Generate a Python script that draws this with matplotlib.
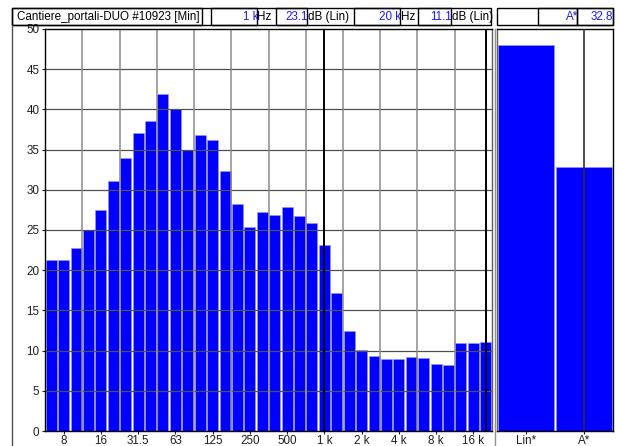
import matplotlib
matplotlib.use("Agg")
import matplotlib.pyplot as plt
from matplotlib.patches import Rectangle
from matplotlib.lines import Line2D

plt.rcParams['font.family'] = ['Liberation Sans', 'DejaVu Sans']

# ---- data ----
bands = ["6.3", "8", "10", "12.5", "16", "20", "25", "31.5", "40", "50", "63", "80",
         "100", "125", "160", "200", "250", "315", "400", "500", "630", "800",
         "1 k", "1.25 k", "1.6 k", "2 k", "2.5 k", "3.15 k", "4 k", "5 k", "6.3 k",
         "8 k", "10 k", "12.5 k", "16 k", "20 k"]
levels = [21.3, 21.3, 22.8, 25.0, 27.5, 31.1, 34.0, 37.1, 38.6, 41.9, 40.0, 34.9,
          36.8, 36.2, 32.3, 28.2, 25.4, 27.3, 26.9, 27.9, 26.8, 25.9,
          23.1, 17.2, 12.4, 10.1, 9.3, 9.0, 9.0, 9.2, 9.1,
          8.3, 8.2, 11.0, 10.9, 11.1]
tick_labels = ["8", "16", "31.5", "63", "125", "250", "500", "1 k", "2 k", "4 k", "8 k", "16 k"]
total_names = ["Lin*", "A*"]
total_values = [48.0, 32.8]
title = "Cantiere_portali-DUO #10923 [Min]"
cursor1_band, cursor1_value = "1 k", "23.1"
cursor2_band, cursor2_value = "20 k", "11.1"
total_cursor_name, total_cursor_value = "A*", "32.8"

W, H = 620, 446
fig = plt.figure(figsize=(W / 100, H / 100), dpi=100)

def rect(x0, y0, x1, y1):
    return [x0 / W, 1 - y1 / H, (x1 - x0) / W, (y1 - y0) / H]

FS = 8.4
BLUE = "#0000ff"
TXTBLUE = "#1a1aff"

# ---- main axes ----
ax = fig.add_axes(rect(45, 29, 492, 431))
x = list(range(len(bands)))
ax.bar(x, levels, width=0.88, color=BLUE, edgecolor="#9999ff", linewidth=0.4, zorder=2)
ax.set_xlim(-0.5, len(bands) - 0.5)
ax.set_ylim(0, 50)
ax.set_yticks(range(0, 51, 5))
ax.set_xticks([bands.index(t) for t in tick_labels])
ax.set_xticklabels(tick_labels)
ax.tick_params(axis="both", labelsize=FS, length=2.5, width=0.8, pad=1.5, colors="#202020")
ax.tick_params(axis="x", pad=0.3)
for yv in range(5, 50, 5):
    ax.axhline(yv, color="#505050", lw=0.9, zorder=3)
for xv in range(2, len(bands) - 1, 3):
    ax.axvline(xv + 0.5, color="#8a8a8a", lw=1.1, zorder=3)
ax.axvline(bands.index(cursor1_band), color="black", lw=1.4, zorder=4)
ax.axvline(bands.index(cursor2_band), color="black", lw=1.4, zorder=4)
for s in ax.spines.values():
    s.set_linewidth(1.0)
    s.set_zorder(5)
ax.spines["right"].set_color("#606060")

# ---- totals axes ----
ax2 = fig.add_axes(rect(497, 29, 613, 431))
ax2.bar(range(len(total_names)), total_values, width=0.97, color=BLUE,
        edgecolor="#9999ff", linewidth=0.4, zorder=2)
ax2.set_xlim(-0.5, len(total_names) - 0.5)
ax2.set_ylim(0, 50)
ax2.set_yticks([])
ax2.set_xticks(range(len(total_names)))
ax2.set_xticklabels(total_names)
ax2.tick_params(axis="x", labelsize=FS, length=2.5, width=0.8, pad=0.3, colors="#202020")
ax2.axvline(total_names.index(total_cursor_name), color="#303030", lw=1.2, zorder=4)
for s in ax2.spines.values():
    s.set_linewidth(1.0)
ax2.spines["left"].set_color("#606060")

# ---- frame & header ----
def box(x0, y0, x1, y1, lw=1.0, color="black"):
    fig.add_artist(Rectangle((x0 / W, 1 - y1 / H), (x1 - x0) / W, (y1 - y0) / H,
                             transform=fig.transFigure, fill=False, lw=lw,
                             edgecolor=color))

def vline(xp, y0, y1, lw=1.0, color="black"):
    fig.add_artist(Line2D([xp / W, xp / W], [1 - y0 / H, 1 - y1 / H],
                          transform=fig.transFigure, lw=lw, color=color))

def txt(xp, yp, s, ha="left", color="black"):
    fig.text(xp / W, 1 - yp / H, s, ha=ha, va="center", fontsize=FS, color=color)

HY0, HY1 = 8, 25
HYC = (HY0 + HY1) / 2 + 0.5
box(12, HY0, 491, HY1)
box(12, HY0, 202, HY1)
box(211, HY0, 257, HY1)
box(276, HY0, 307, HY1)
box(354, HY0, 400, HY1)
box(418, HY0, 451, HY1)
box(497, HY0, 613, HY1)
box(538, HY0, 577, HY1)
box(577, HY0, 613, HY1)
vline(12, HY1, H, lw=1.0, color="#505050")
vline(494.5, 29, H, lw=1.0, color="#909090")

txt(17, HYC, title)
txt(258.5, HYC, cursor1_band, ha="right", color=TXTBLUE)
txt(257.5, HYC, "Hz")
txt(308, HYC, cursor1_value, ha="right", color=TXTBLUE)
txt(307.5, HYC, "dB (Lin)")
txt(401.5, HYC, cursor2_band, ha="right", color=TXTBLUE)
txt(400.5, HYC, "Hz")
txt(452, HYC, cursor2_value, ha="right", color=TXTBLUE)
txt(451.5, HYC, "dB (Lin)")
txt(578, HYC, total_cursor_name, ha="right", color=TXTBLUE)
txt(613, HYC, total_cursor_value, ha="right", color=TXTBLUE)

fig.savefig("out.png", dpi=100, facecolor="white")
